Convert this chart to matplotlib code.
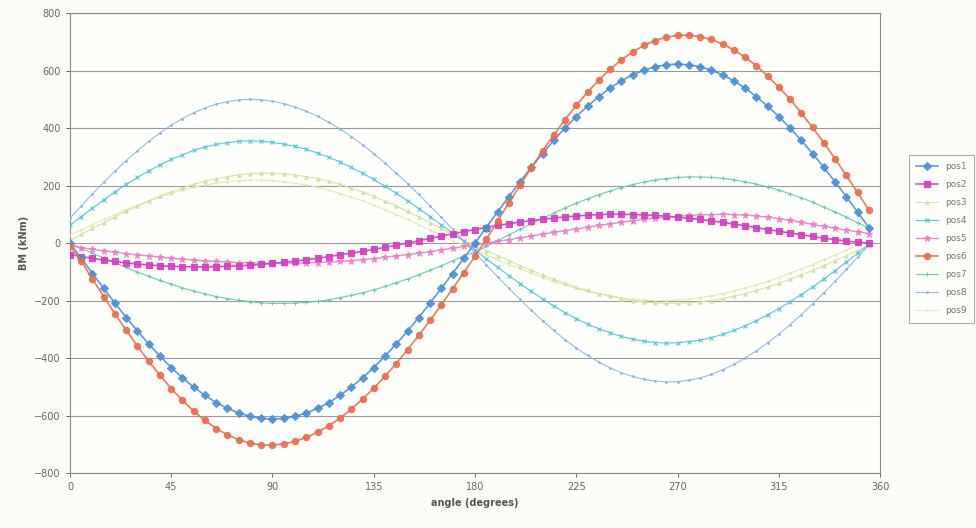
import matplotlib
matplotlib.use("Agg")
import matplotlib.pyplot as plt
import numpy as np

# angle in degrees, one reading every 5 degrees
angle = list(range(0, 360, 5))

pos1 = [0, -53, -106, -158, -209, -259, -306, -351, -393, -433, -469, -501,
        -530, -555, -575, -591, -603, -610, -612, -610, -603, -591, -575, -555,
        -530, -501, -469, -433, -393, -351, -306, -259, -209, -158, -106, -53,
        0, 54, 108, 161, 213, 263, 311, 357, 400, 440, 476, 509,
        539, 564, 585, 601, 613, 620, 622, 620, 613, 601, 585, 564,
        539, 509, 476, 440, 400, 357, 311, 263, 213, 161, 108, 54]

pos2 = [-40, -47, -53, -59, -64, -69, -73, -76, -79, -81, -82, -83,
        -83, -82, -81, -79, -77, -74, -71, -67, -63, -58, -53, -47,
        -41, -35, -29, -22, -15, -8, 0, 8, 16, 24, 32, 40,
        47, 54, 61, 67, 73, 78, 83, 87, 91, 94, 97, 99,
        100, 100, 99, 98, 96, 93, 90, 86, 82, 77, 72, 66,
        60, 54, 47, 41, 35, 29, 23, 17, 12, 7, 3, 0]

pos3 = [8, 30, 51, 71, 91, 110, 129, 146, 163, 178, 191, 204,
        215, 224, 231, 237, 241, 243, 243, 241, 237, 231, 224, 215,
        204, 191, 178, 163, 146, 129, 110, 91, 71, 51, 30, 8,
        -7, -26, -44, -61, -79, -95, -111, -126, -140, -154, -165, -176,
        -185, -193, -200, -205, -208, -210, -210, -208, -205, -200, -193, -185,
        -176, -165, -154, -140, -126, -111, -95, -79, -61, -44, -26, -7]

pos4 = [62, 92, 121, 150, 178, 204, 228, 251, 272, 291, 307, 322,
        334, 343, 349, 354, 355, 354, 350, 344, 336, 326, 313, 298,
        282, 263, 243, 221, 197, 173, 147, 120, 92, 63, 35, 6,
        -24, -55, -84, -113, -141, -168, -194, -219, -242, -263, -282, -298,
        -312, -325, -334, -341, -346, -348, -347, -343, -338, -329, -318, -304,
        -288, -270, -250, -228, -204, -179, -153, -125, -96, -66, -36, -6]

pos5 = [-10, -16, -22, -27, -32, -37, -41, -45, -49, -53, -56, -59,
        -62, -64, -66, -68, -69, -70, -70, -70, -70, -69, -68, -66,
        -64, -61, -58, -54, -50, -45, -40, -35, -30, -24, -18, -12,
        -6, 0, 6, 12, 18, 24, 31, 37, 43, 49, 55, 61,
        67, 72, 77, 82, 86, 90, 93, 96, 98, 99, 100, 99,
        97, 94, 90, 85, 79, 72, 65, 58, 51, 45, 39, 33]

pos6 = [-10, -63, -125, -186, -246, -303, -359, -411, -460, -506, -547, -585,
        -617, -645, -667, -684, -696, -702, -703, -698, -690, -676, -658, -636,
        -609, -578, -543, -505, -463, -419, -371, -321, -269, -215, -159, -103,
        -46, 13, 76, 139, 201, 262, 320, 376, 429, 479, 524, 567,
        604, 637, 664, 687, 704, 716, 722, 723, 718, 708, 692, 672,
        646, 617, 581, 542, 500, 452, 402, 349, 293, 235, 176, 115]

pos7 = [0, -18, -35, -52, -69, -85, -101, -116, -130, -143, -156, -167,
        -177, -186, -193, -199, -204, -208, -210, -210, -209, -206, -203, -197,
        -190, -182, -173, -163, -151, -138, -125, -110, -95, -79, -62, -45,
        -32, -12, 8, 28, 48, 67, 86, 104, 122, 138, 154, 168,
        181, 193, 203, 212, 219, 224, 228, 230, 230, 228, 225, 220,
        213, 205, 195, 184, 171, 157, 142, 125, 108, 90, 71, 52]

pos8 = [87, 129, 171, 211, 250, 287, 321, 354, 383, 410, 433, 453,
        470, 483, 492, 498, 500, 498, 493, 485, 473, 459, 441, 420,
        397, 370, 342, 311, 278, 243, 207, 169, 129, 89, 49, 8,
        -34, -76, -117, -157, -196, -234, -270, -304, -336, -365, -391, -414,
        -434, -451, -464, -474, -480, -483, -482, -477, -469, -457, -441, -422,
        -400, -375, -347, -317, -284, -249, -212, -173, -133, -92, -50, -8]

pos9 = [27, 46, 64, 82, 99, 116, 131, 147, 160, 172, 184, 194,
        202, 208, 213, 217, 219, 219, 217, 213, 208, 202, 194, 184,
        172, 160, 147, 131, 116, 99, 82, 64, 46, 27, 7, -6,
        -25, -42, -58, -75, -90, -105, -120, -133, -146, -157, -167, -176,
        -183, -190, -195, -198, -200, -200, -198, -195, -190, -183, -176, -167,
        -157, -146, -133, -120, -105, -90, -75, -58, -42, -25, -7, 8]

names = ["pos1", "pos2", "pos3", "pos4", "pos5", "pos6", "pos7", "pos8", "pos9"]
series = [pos1, pos2, pos3, pos4, pos5, pos6, pos7, pos8, pos9]

# washed-out scan colours
colors = ["#4a8fd8", "#d83cc0", "#cfe3a0", "#45c4d8", "#f07cc8",
          "#ef6a4a", "#5ec6a8", "#86b6e6", "#e8e6a4"]
markers = ["D", "s", "^", "x", "*", "o", "+", ".", "."]
msizes = [4, 4, 2.5, 2.5, 4.5, 4.5, 2.5, 2.5, 2]
lwidths = [1.2, 1.2, 0.8, 0.8, 1.0, 1.2, 0.8, 0.8, 0.8]

fig = plt.figure(figsize=(9.76, 5.28), dpi=100, facecolor="#fcfcf6")
ax = fig.add_axes([0.0717, 0.104, 0.83, 0.8714])
ax.set_facecolor("#fefefb")

# lighter series first so the strong ones sit on top
order = [8, 2, 6, 3, 7, 4, 1, 0, 5]
lines = {}
for i in order:
    ln, = ax.plot(angle, series[i], color=colors[i], marker=markers[i],
                  markersize=msizes[i], linewidth=lwidths[i], markeredgewidth=0.8,
                  label=names[i], zorder=3, alpha=0.9)
    lines[i] = ln

ax.set_xlim(0, 360)
ax.set_ylim(-800, 800)
ax.set_xticks(np.arange(0, 361, 45))
ax.set_yticks(np.arange(-800, 801, 200))
ax.yaxis.grid(True, color="#9a9a9a", linewidth=0.8)
ax.set_axisbelow(True)
ax.tick_params(labelsize=7, colors="#666666", length=3, width=0.7)
for s in ax.spines.values():
    s.set_color("#8a8a8a")
    s.set_linewidth(0.8)

ax.set_xlabel("angle (degrees)", fontsize=7, fontweight="bold", color="#555555")
ax.set_ylabel("BM (kNm)", fontsize=7, fontweight="bold", color="#555555")

leg = ax.legend([lines[i] for i in range(9)], names, loc="upper left",
                bbox_to_anchor=(0.927, 0.715), bbox_transform=fig.transFigure,
                fontsize=6.5, frameon=True, fancybox=False, labelspacing=1.0,
                handlelength=2.4, borderpad=0.8, labelcolor="#777777")
leg.get_frame().set_edgecolor("#999999")
leg.get_frame().set_linewidth(0.8)
leg.get_frame().set_facecolor("#fefefb")

fig.savefig("out.png", dpi=100, facecolor=fig.get_facecolor())
